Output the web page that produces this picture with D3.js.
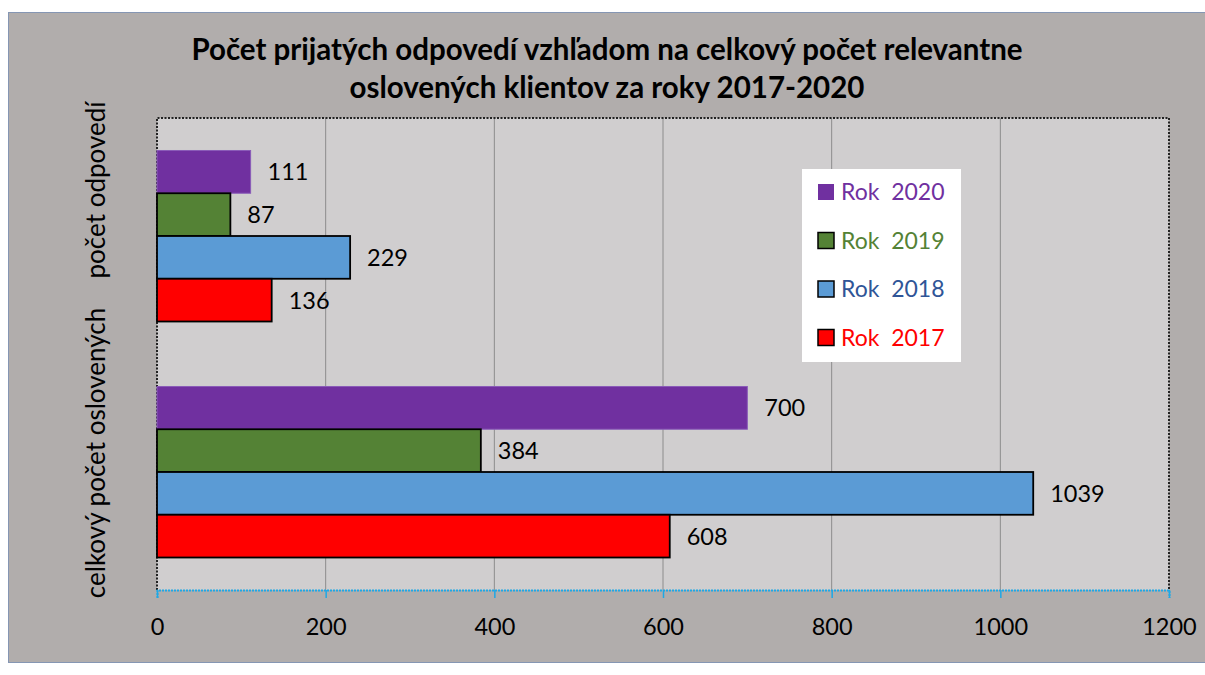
<!DOCTYPE html>
<html>
<head>
<meta charset="utf-8">
<script src="https://cdn.jsdelivr.net/npm/d3@7"></script>
<style>
  body { margin: 0; background: #fff; }
  svg text { font-family: Lato, "Open Sans", sans-serif; }
</style>
</head>
<body>
<div id="chart"></div>
<script>
// Údaje grafu
const kategorie = ["počet odpovedí", "celkový počet oslovených"];
const roky = ["Rok  2020", "Rok  2019", "Rok  2018", "Rok  2017"];
const hodnoty2020 = [111, 700];
const hodnoty2019 = [87, 384];
const hodnoty2018 = [229, 1039];
const hodnoty2017 = [136, 608];
const tickyX = [0, 200, 400, 600, 800, 1000, 1200];
const nazovRiadky = ["Počet prijatých odpovedí vzhľadom na celkový počet relevantne",
                     "oslovených klientov za roky 2017-2020"];

const farby = ["#7030a0", "#548235", "#5b9bd5", "#ff0000"];
const farbyTextu = ["#7030a0", "#548235", "#2f5597", "#ff0000"];
const obrysy = ["#8a5cb8", "#000", "#000", "#000"];
const serie = [hodnoty2020, hodnoty2019, hodnoty2018, hodnoty2017];

const W = 1205, H = 675;
const svg = d3.select("#chart").append("svg")
    .attr("width", W)
    .attr("height", H);

// Pozadie grafu
svg.append("rect")
    .attr("x", 8.5).attr("y", 12.5)
    .attr("width", W).attr("height", 650)
    .attr("fill", "#b1adac")
    .attr("stroke", "#8596b3")
    .attr("stroke-width", 1);

// Oblasť vykreslenia
const pLeft = 157, pRight = 1169, pTop = 118, pBottom = 590;

const x = d3.scaleLinear().domain([0, 1200]).range([pLeft, pRight]);
const y = d3.scaleBand().domain(kategorie).range([pTop, pBottom]);
const yIn = d3.scaleBand().domain(roky).range([0, y.bandwidth()])
    .paddingInner(0).paddingOuter(0.76);

svg.append("rect")
    .attr("x", pLeft).attr("y", pTop)
    .attr("width", pRight - pLeft).attr("height", pBottom - pTop)
    .attr("fill", "#d0cecf");

// Mriežka
svg.append("g")
    .selectAll("line")
    .data(tickyX.slice(1, -1))
    .join("line")
    .attr("x1", d => x(d)).attr("x2", d => x(d))
    .attr("y1", pTop).attr("y2", pBottom)
    .attr("stroke", "#8c8c8c")
    .attr("stroke-width", 1);

// Bodkovaný okraj
svg.append("path")
    .attr("d", `M${pLeft},${pBottom}V${pTop}H${pRight}V${pBottom}`)
    .attr("fill", "none")
    .attr("stroke", "#222")
    .attr("stroke-width", 2)
    .attr("stroke-dasharray", "2,1.5");

// Stĺpce
serie.forEach((vals, i) => {
    const g = svg.append("g");
    g.selectAll("rect")
        .data(vals)
        .join("rect")
        .attr("x", x(0))
        .attr("y", (d, j) => y(kategorie[j]) + yIn(roky[i]))
        .attr("width", d => x(d) - x(0))
        .attr("height", yIn.bandwidth())
        .attr("fill", farby[i])
        .attr("stroke", obrysy[i])
        .attr("stroke-width", i === 0 ? 1 : 1.8);
    g.selectAll("text")
        .data(vals)
        .join("text")
        .attr("x", d => x(d) + 17)
        .attr("y", (d, j) => y(kategorie[j]) + yIn(roky[i]) + yIn.bandwidth() / 2)
        .attr("dy", "0.36em")
        .attr("font-size", 23.5)
        .attr("fill", "#000")
        .text(d => d);
});

// Os X
const osX = svg.append("g")
    .attr("transform", `translate(0,${pBottom})`)
    .call(d3.axisBottom(x).tickValues(tickyX).tickSize(8).tickPadding(20).tickFormat(d3.format("d")));
osX.select(".domain")
    .attr("stroke", "#1fa8e6")
    .attr("stroke-width", 2)
    .attr("stroke-dasharray", "2,1");
osX.selectAll(".tick line").attr("stroke", "#1fa8e6").attr("stroke-width", 1.5);
osX.selectAll(".tick text")
    .attr("font-size", 23.5)
    .attr("fill", "#000")
    .style("font-family", "Lato, 'Open Sans', sans-serif");

// Popisy kategórií
const popisY = [190, 453];
svg.append("g")
    .selectAll("text")
    .data(kategorie)
    .join("text")
    .attr("transform", (d, i) => `translate(105,${popisY[i]}) rotate(-90)`)
    .attr("text-anchor", "middle")
    .attr("font-size", 26)
    .attr("fill", "#000")
    .text(d => d);

// Nadpis
svg.append("g")
    .selectAll("text")
    .data(nazovRiadky)
    .join("text")
    .attr("x", 607)
    .attr("y", (d, i) => 60 + i * 38)
    .attr("text-anchor", "middle")
    .attr("font-size", 29.5)
    .attr("font-weight", "bold")
    .attr("fill", "#000")
    .text(d => d);

// Legenda
const leg = svg.append("g").attr("transform", "translate(802,169)");
leg.append("rect")
    .attr("width", 159).attr("height", 193)
    .attr("fill", "#fff");
const polozky = leg.selectAll("g")
    .data(roky)
    .join("g")
    .attr("transform", (d, i) => `translate(16,${23 + i * 48.5})`);
polozky.append("rect")
    .attr("x", 0).attr("y", -8)
    .attr("width", 16).attr("height", 16)
    .attr("fill", (d, i) => farby[i])
    .attr("stroke", (d, i) => i === 0 ? "none" : "#000")
    .attr("stroke-width", 1.5);
polozky.append("text")
    .attr("x", 23)
    .attr("dy", "0.36em")
    .attr("font-size", 23)
    .attr("fill", (d, i) => farbyTextu[i])
    .style("white-space", "pre")
    .text(d => d);
</script>
</body>
</html>
